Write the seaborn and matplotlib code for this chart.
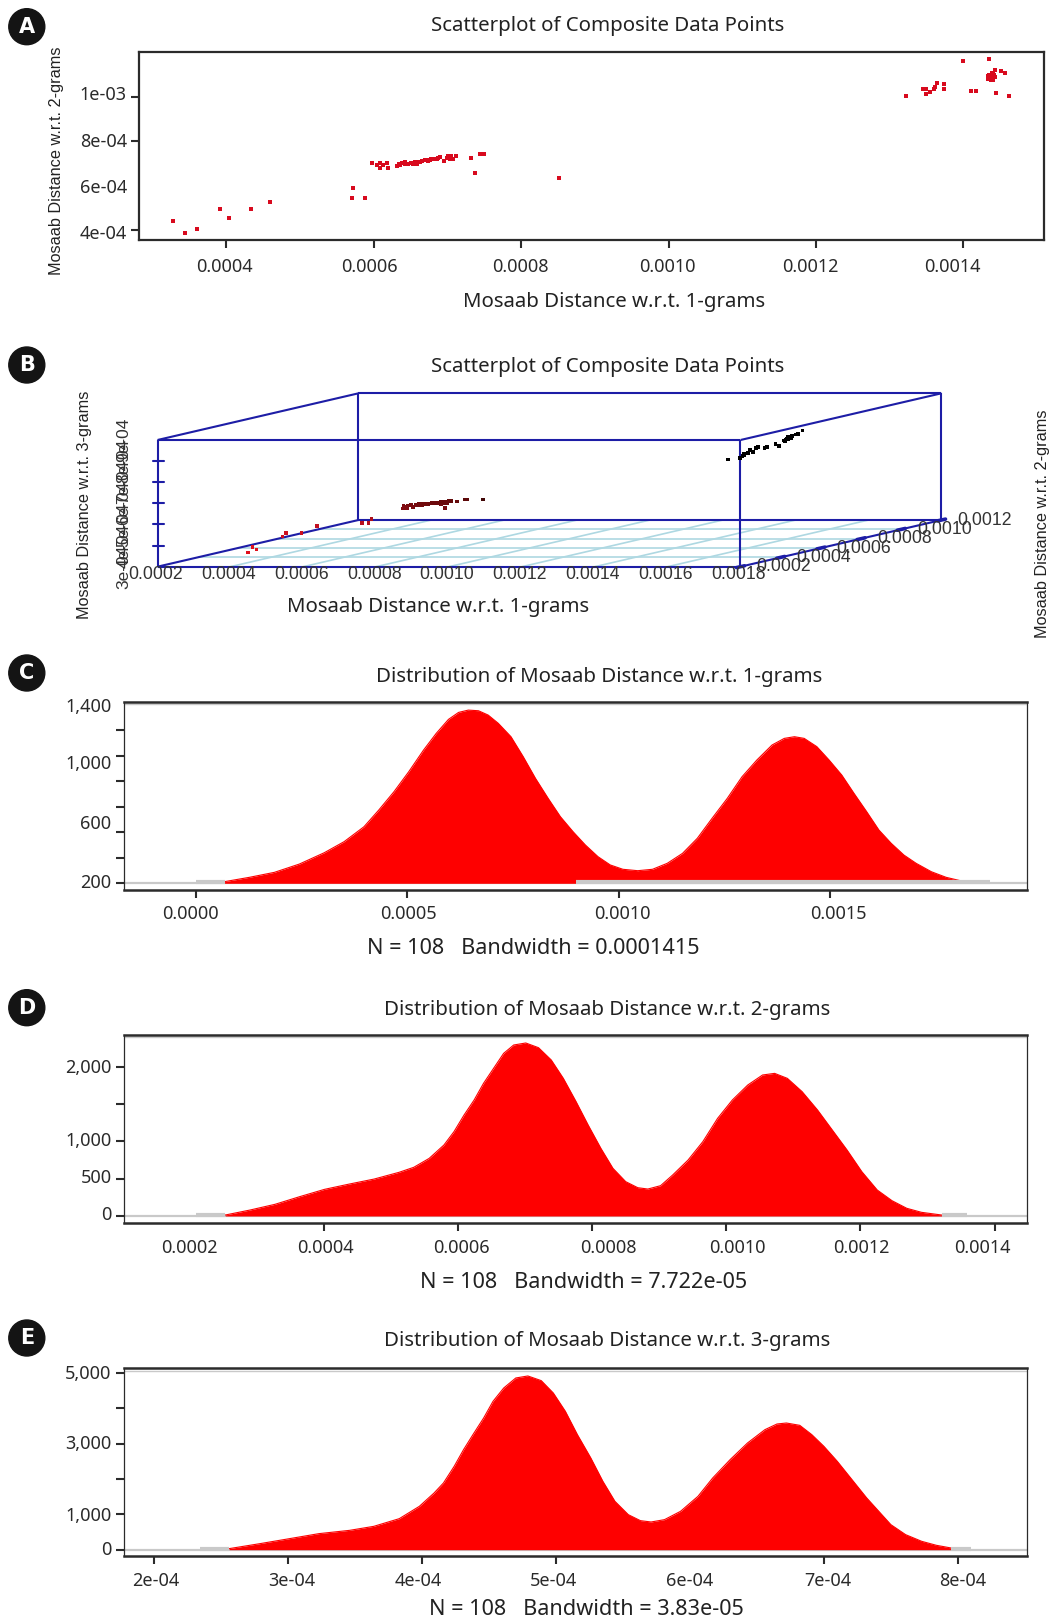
## Scatterplots and density curves of Mosaab distances

import matplotlib
matplotlib.use("Agg")
import matplotlib.pyplot as plt
from matplotlib.colors import LinearSegmentedColormap
from matplotlib.patches import Circle
import pandas as pd
import seaborn as sns

sns.set_theme(style="ticks")
plt.rcParams["font.family"] = ["Noto Sans", "DejaVu Sans"]

W, H = 1051, 1619

# Composite points: distance w.r.t. 1-grams, 2-grams, 3-grams
gram1 = [
    0.000328, 0.000344, 0.000360, 0.000391, 0.000403, 0.000434, 0.000459,
    0.000570, 0.000572, 0.000588,
    0.000597, 0.000604, 0.000609, 0.000612, 0.000609, 0.000618, 0.000620,
    0.000632, 0.000634, 0.000636, 0.000639, 0.000643, 0.000653, 0.000656,
    0.000659, 0.000663, 0.000669, 0.000674, 0.000678, 0.000683, 0.000687,
    0.000696, 0.000701, 0.000705, 0.000703, 0.000708, 0.000712, 0.000732,
    0.000737, 0.000744, 0.000749, 0.000852,
    0.001322, 0.001345, 0.001349, 0.001350, 0.001355, 0.001360, 0.001361,
    0.001365, 0.001374, 0.001374, 0.001399, 0.001410, 0.001417, 0.001435,
    0.001444, 0.001462,
    0.001433, 0.001436, 0.001440, 0.001433, 0.001436, 0.001440, 0.001443,
    0.001441, 0.001443, 0.001439, 0.001451, 0.001456,
    0.000636, 0.000642, 0.000647, 0.000651, 0.000662, 0.000666, 0.000672,
    0.000677, 0.000681, 0.000686, 0.000690, 0.000700, 0.000704,
    0.001434, 0.001438, 0.001442, 0.001435, 0.001439, 0.001442, 0.001437, 0.001441,
]
gram2 = [
    0.000441, 0.000388, 0.000403, 0.000493, 0.000454, 0.000493, 0.000525,
    0.000546, 0.000591, 0.000546,
    0.000704, 0.000693, 0.000704, 0.000693, 0.000681, 0.000704, 0.000681,
    0.000688, 0.000700, 0.000696, 0.000704, 0.000705, 0.000696, 0.000708,
    0.000700, 0.000707, 0.000716, 0.000713, 0.000719, 0.000719, 0.000726,
    0.000711, 0.000734, 0.000734, 0.000719, 0.000719, 0.000734, 0.000726,
    0.000658, 0.000743, 0.000743, 0.000636,
    0.001004, 0.001034, 0.001034, 0.001012, 0.001024, 0.001034, 0.001043,
    0.001065, 0.001059, 0.001034, 0.001162, 0.001027, 0.001027, 0.001170,
    0.001019, 0.001004,
    0.001095, 0.001095, 0.001095, 0.001083, 0.001083, 0.001083, 0.001092,
    0.001107, 0.001122, 0.001110, 0.001117, 0.001110,
    0.000694, 0.000700, 0.000700, 0.000704, 0.000706, 0.000712, 0.000715,
    0.000715, 0.000720, 0.000722, 0.000728, 0.000726, 0.000726,
    0.001090, 0.001090, 0.001088, 0.001101, 0.001100, 0.001100, 0.001078, 0.001078,
]
gram3 = [
    0.000341, 0.000325, 0.000337, 0.000396, 0.000387, 0.000396, 0.000420,
    0.000432, 0.000438, 0.000432,
    0.000475, 0.000472, 0.000478, 0.000476, 0.000470, 0.000480, 0.000472,
    0.000476, 0.000482, 0.000480, 0.000484, 0.000485, 0.000482, 0.000486,
    0.000484, 0.000486, 0.000487, 0.000486, 0.000488, 0.000488, 0.000490,
    0.000484, 0.000490, 0.000492, 0.000488, 0.000488, 0.000494, 0.000492,
    0.000478, 0.000498, 0.000498, 0.000522,
    0.000630, 0.000640, 0.000645, 0.000635, 0.000650, 0.000655, 0.000665,
    0.000672, 0.000678, 0.000660, 0.000700, 0.000680, 0.000685, 0.000730,
    0.000700, 0.000695,
    0.000705, 0.000708, 0.000712, 0.000702, 0.000706, 0.000710, 0.000715,
    0.000718, 0.000722, 0.000720, 0.000724, 0.000726,
    0.000480, 0.000482, 0.000482, 0.000484, 0.000484, 0.000486, 0.000486,
    0.000486, 0.000488, 0.000488, 0.000490, 0.000490, 0.000490,
    0.000706, 0.000709, 0.000712, 0.000704, 0.000708, 0.000712, 0.000702, 0.000708,
]

# Density curves, x in units of 1e-6
c_x = [67, 126, 185, 244, 303, 350, 397, 432, 468, 503, 538, 568, 597, 621, 644, 668, 691, 715, 745, 774,
       803, 833, 862, 892, 921, 951, 980, 1010, 1045, 1080, 1115, 1151, 1186, 1221, 1257, 1292, 1327,
       1363, 1392, 1416, 1439, 1469, 1498, 1528, 1557, 1587, 1616, 1645, 1675, 1704, 1740, 1775, 1808]
c_y = [13, 47, 86, 151, 240, 327, 444, 575, 719, 876, 1046, 1177, 1287, 1342, 1360, 1355, 1321, 1256, 1151,
       994, 824, 667, 523, 405, 301, 209, 144, 110, 99, 110, 157, 235, 353, 510, 667, 837, 968, 1086, 1138,
       1151, 1138, 1073, 968, 850, 706, 562, 418, 314, 222, 157, 91, 47, 21]
d_x = [253, 290, 327, 364, 401, 438, 475, 512, 534, 557, 579, 594, 609, 624, 638, 653, 668, 683, 701, 720,
       739, 757, 776, 794, 813, 831, 850, 868, 883, 902, 920, 943, 965, 987, 1009, 1032, 1054, 1072, 1091,
       1113, 1136, 1158, 1180, 1202, 1225, 1247, 1269, 1291, 1321]
d_y = [13, 80, 156, 259, 357, 428, 495, 585, 652, 772, 951, 1130, 1353, 1554, 1777, 1978, 2179, 2291, 2318,
       2255, 2090, 1844, 1532, 1219, 906, 638, 460, 379, 361, 406, 549, 750, 996, 1308, 1554, 1755, 1889,
       1911, 1844, 1666, 1420, 1152, 884, 594, 348, 205, 103, 49, 13]
e_x = [256, 279, 301, 323, 346, 364, 383, 398, 409, 416, 424, 431, 438, 446, 453, 461, 470, 479, 489, 498,
       507, 516, 526, 535, 544, 554, 563, 571, 581, 593, 606, 617, 630, 643, 656, 665, 672, 682, 691, 700,
       710, 721, 732, 741, 750, 761, 773, 784, 795]
e_y = [30, 171, 312, 454, 548, 661, 878, 1227, 1605, 1888, 2359, 2831, 3255, 3727, 4199, 4576, 4859, 4916,
       4784, 4434, 3916, 3255, 2595, 1935, 1369, 991, 822, 784, 850, 1086, 1510, 2029, 2548, 3020, 3397,
       3557, 3585, 3519, 3255, 2925, 2501, 1982, 1463, 1086, 709, 426, 237, 124, 48]

# Grey ends of the density estimate
c_tails = [(0.0, 0.000067), (0.00090, 0.00188)]
d_tails = [(0.000209, 0.000253), (0.001322, 0.001359)]
e_tails = [(0.000234, 0.000256), (0.000795, 0.00081)]

RED = "#fe0000"
DARK = "#2b2b2b"
GREY = "#c9c9c9"
BLUE = "#1d1da6"
LINE_BLUE = "#aed8e2"
NOTO = ["Noto Sans", "DejaVu Sans"]
ARIAL = ["Liberation Sans", "DejaVu Sans"]

fig = plt.figure(figsize=(W / 100, H / 100), dpi=100, facecolor="white")


def panel(left, top, right, bottom):
    return fig.add_axes([left / W, 1 - bottom / H, (right - left) / W, (bottom - top) / H])


def finish_axes(ax, xlim, ylim, xticks, xlabel_at, xlabels, yticks, ylabel_at, ylabels, xpad, ypad=4):
    # marks sit on minor ticks, labels on zero length major ticks, as they drift in the figure
    ax.set_xlim(*xlim)
    ax.set_ylim(*ylim)
    ax.set_xticks(xlabel_at, xlabels)
    ax.set_yticks(ylabel_at, ylabels)
    ax.set_xticks(xticks, minor=True)
    ax.set_yticks(yticks, minor=True)
    ax.tick_params(which="major", length=0, labelsize=13, labelcolor="#2a2a2a")
    ax.tick_params(axis="x", which="major", pad=xpad)
    ax.tick_params(axis="y", which="major", pad=ypad)
    ax.tick_params(which="minor", length=6, width=1.5, color=DARK, direction="out")
    ax.set_xlabel("")
    ax.set_ylabel("")


# Panel A
points = pd.DataFrame({"gram1": gram1, "gram2": gram2, "gram3": gram3})
ax_a = panel(139.4, 52, 1043.6, 240)
sns.scatterplot(data=points, x="gram1", y="gram2", color="#d80a1e", marker="s", s=7, linewidth=0, ax=ax_a)
finish_axes(
    ax_a, (0.000282, 0.001509), (0.000355, 0.001203),
    [0.0004, 0.0006, 0.0008, 0.0010, 0.0012, 0.0014],
    [0.000398, 0.000594, 0.000799, 0.000998, 0.001193, 0.001385],
    ["0.0004", "0.0006", "0.0008", "0.0010", "0.0012", "0.0014"],
    [0.001, 0.0008, 0.0006, 0.0004],
    [0.00102, 0.000808, 0.0006, 0.00039],
    ["1e-03", "8e-04", "6e-04", "4e-04"],
    xpad=13, ypad=9,
)
for side in ax_a.spines.values():
    side.set_linewidth(1.6)
    side.set_color(DARK)


def density_panel(box, xs, ys, tails, xlim, ylim, xticks, xlabel_at, xlabels, yticks, ylabel_at, ylabels):
    ax = panel(*box)
    xs = [v * 1e-6 for v in xs]
    ax.axhline(0, color=GREY, lw=1.6, zorder=1)
    ax.fill_between(xs, ys, 0, color=RED, lw=0, zorder=2)
    sns.lineplot(x=xs, y=ys, color=RED, lw=0.8, sort=False, errorbar=None, ax=ax, zorder=3)
    for start, end in tails:
        ax.plot([start, end], [ylim[1] * 0.006, ylim[1] * 0.006], color=GREY, lw=3, zorder=4,
                solid_capstyle="butt")
    ax.plot([0, 1], [0.988, 0.988], transform=ax.transAxes, color=GREY, lw=1, zorder=1)
    finish_axes(ax, xlim, ylim, xticks, xlabel_at, xlabels, yticks, ylabel_at, ylabels, xpad=11, ypad=9)
    for name, side in ax.spines.items():
        side.set_color(DARK)
        side.set_linewidth(1.8 if name in ("top", "bottom") else 0.9)
    return ax


# Panels C, D, E
density_panel(
    (124, 701.7, 1026.8, 890), c_x, c_y, c_tails,
    (-0.000171, 0.001966), (-52.6, 1426),
    [0.0, 0.0005, 0.0010, 0.0015],
    [-0.000014, 0.000503, 0.001008, 0.00152],
    ["0.0000", "0.0005", "0.0010", "0.0015"],
    [0, 200, 400, 600, 800, 1000, 1200, 1400],
    [1400, 955, 482, 20],
    ["1,400", "1,000", "600", "200"],
)
density_panel(
    (124, 1035, 1026.8, 1223.3), d_x, d_y, d_tails,
    (0.000102, 0.001448), (-98, 2425),
    [0.0002, 0.0004, 0.0006, 0.0008, 0.0010, 0.0012, 0.0014],
    [0.0002, 0.000402, 0.000605, 0.000824, 0.001017, 0.001202, 0.001382],
    ["0.0002", "0.0004", "0.0006", "0.0008", "0.0010", "0.0012", "0.0014"],
    [0, 500, 1000, 1500, 2000],
    [2009, 1031, 536, 45],
    ["2,000", "1,000", "500", "0"],
)
density_panel(
    (124, 1368.3, 1026.8, 1556.3), e_x, e_y, e_tails,
    (0.0001775, 0.0008515), (-187, 5133),
    [0.0002, 0.0003, 0.0004, 0.0005, 0.0006, 0.0007, 0.0008],
    [0.0002015, 0.000303, 0.000397, 0.000498, 0.0006, 0.000703, 0.000804],
    ["2e-04", "3e-04", "4e-04", "5e-04", "6e-04", "7e-04", "8e-04"],
    [0, 1000, 2000, 3000, 4000, 5000],
    [5019, 3038, 1009, 38],
    ["5,000", "3,000", "1,000", "0"],
)

# Overlay in pixel units for panel B, titles and badges
over = fig.add_axes([0, 0, 1, 1], facecolor="none")
over.set_axis_off()

x1_ticks = [0.0002, 0.0004, 0.0006, 0.0008, 0.0010, 0.0012, 0.0014, 0.0016, 0.0018]
x2_ticks = [0.0002, 0.0004, 0.0006, 0.0008, 0.0010, 0.0012]
x3_ticks = [0.0003, 0.0004, 0.0005, 0.0006, 0.0007, 0.0008, 0.0009]


def project(x1, x2, x3):
    # oblique view of the cube on the page
    sx = 157.5 + (x1 - 0.0002) / 0.0016 * 583 + (x2 - 0.0002) / 0.001 * 201
    sy = 566.7 - (x2 - 0.0002) / 0.001 * 46.7 - (x3 - 0.0003) / 0.0006 * 126.7
    return sx, sy


def cube_line(a, b, color=BLUE, lw=1.5, zorder=2):
    ax_from, ax_to = project(*a), project(*b)
    over.plot([ax_from[0], ax_to[0]], [ax_from[1], ax_to[1]], color=color, lw=lw, zorder=zorder,
              solid_capstyle="butt")


lo1, hi1, lo2, hi2, lo3, hi3 = 0.0002, 0.0018, 0.0002, 0.0012, 0.0003, 0.0009
for v in x2_ticks[1:-1]:
    cube_line((lo1, v, lo3), (hi1, v, lo3), LINE_BLUE, 1.2, 1)
for v in x1_ticks[1:-1]:
    cube_line((v, lo2, lo3), (v, hi2, lo3), LINE_BLUE, 1.2, 1)
for a, b in [
    ((lo1, lo2, lo3), (hi1, lo2, lo3)), ((lo1, hi2, lo3), (hi1, hi2, lo3)),
    ((lo1, lo2, hi3), (hi1, lo2, hi3)), ((lo1, hi2, hi3), (hi1, hi2, hi3)),
    ((lo1, lo2, lo3), (lo1, hi2, lo3)), ((hi1, lo2, lo3), (hi1, hi2, lo3)),
    ((lo1, lo2, hi3), (lo1, hi2, hi3)), ((hi1, lo2, hi3), (hi1, hi2, hi3)),
    ((lo1, lo2, lo3), (lo1, lo2, hi3)), ((hi1, lo2, lo3), (hi1, lo2, hi3)),
    ((lo1, hi2, lo3), (lo1, hi2, hi3)), ((hi1, hi2, lo3), (hi1, hi2, hi3)),
]:
    cube_line(a, b)

for v in x3_ticks[1:-1]:
    sx, sy = project(lo1, lo2, v)
    over.plot([sx - 5, sx + 6], [sy, sy], color=BLUE, lw=1.5, zorder=2)
for v in x1_ticks:
    sx, sy = project(v, lo2, lo3)
    over.text(sx - 2, sy + 8, f"{v:.4f}", family=ARIAL, fontsize=12.7, color="#333333", ha="center", va="center")
for v in x2_ticks:
    sx, sy = project(hi1, v, lo3)
    over.plot([sx - 4, sx + 4], [sy + 0.9, sy - 0.9], color=BLUE, lw=2.6, zorder=2)
    over.text(sx + 43, sy, f"{v:.4f}", family=ARIAL, fontsize=12.7, color="#333333", ha="center", va="center")
for v in x3_ticks:
    sx, sy = project(lo1, lo2, v)
    over.text(124, sy, f"{v * 10000:.0f}e-04", family=ARIAL, fontsize=12.5, color="#333333", rotation=90,
              ha="center", va="center")

proj = [project(a, b, c) for a, b, c in zip(gram1, gram2, gram3)]
projected = pd.DataFrame({"sx": [p[0] for p in proj], "sy": [p[1] for p in proj], "depth": gram3})
depth_map = LinearSegmentedColormap.from_list("depth", ["#e0101c", "#c01020", "#5a0808", "#000000", "#000000"])
sns.scatterplot(data=projected, x="sx", y="sy", hue="depth", palette=depth_map, hue_norm=(0.00035, 0.00065),
                marker="s", s=7, linewidth=0, legend=False, ax=over, zorder=5)
over.set_xlabel("")
over.set_ylabel("")
over.set_xlim(0, W)
over.set_ylim(H, 0)


def label(x, y, text, size=14.7, family=NOTO, rotation=0, color="#222222"):
    over.text(x, y, text, fontsize=size, family=family, rotation=rotation, color=color, ha="center", va="center")


label(607.6, 26.5, "Scatterplot of Composite Data Points")
label(614, 302, "Mosaab Distance w.r.t. 1-grams")
label(57, 160.5, "Mosaab Distance w.r.t. 2-grams", 11.7, ARIAL, 90)
label(607.6, 367, "Scatterplot of Composite Data Points")
label(438, 607, "Mosaab Distance w.r.t. 1-grams")
label(84, 505, "Mosaab Distance w.r.t. 3-grams", 11.7, ARIAL, 90)
label(1042, 524, "Mosaab Distance w.r.t. 2-grams", 11.7, ARIAL, 90)
label(598.7, 676.5, "Distribution of Mosaab Distance w.r.t. 1-grams")
label(533.5, 948, "N = 108   Bandwidth = 0.0001415", 15.6)
label(607.6, 1009.5, "Distribution of Mosaab Distance w.r.t. 2-grams")
label(584, 1282, "N = 108   Bandwidth = 7.722e-05", 15.6)
label(607.6, 1341, "Distribution of Mosaab Distance w.r.t. 3-grams")
label(586.5, 1609, "N = 108   Bandwidth = 3.83e-05", 15.6)

for letter, y in zip("ABCDE", [26.7, 365, 673, 1007.7, 1338]):
    over.add_patch(Circle((26.8, y), 18, color="#141414", zorder=6))
    over.text(26.8, y, letter, fontsize=15, fontweight="bold", family=["DejaVu Sans"], color="white",
              ha="center", va="center", zorder=7)

fig.savefig("out.png", dpi=100)
